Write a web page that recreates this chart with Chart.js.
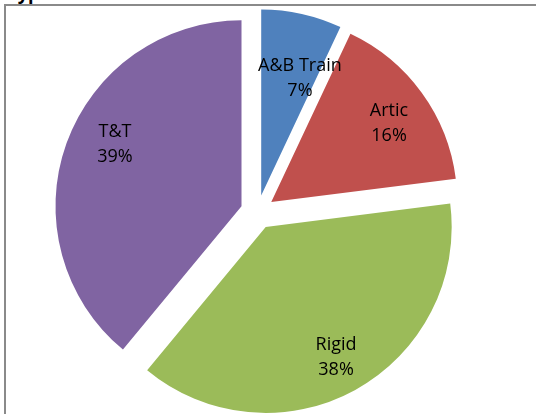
<!DOCTYPE html>
<html>
<head>
<meta charset="utf-8">
<script src="https://cdn.jsdelivr.net/npm/chart.js@4/dist/chart.umd.min.js"></script>
<style>
  html, body { margin: 0; padding: 0; background: #fff; overflow: hidden; }
  #wrap { position: relative; width: 536px; height: 414px; }
  #frame { position: absolute; left: 4px; top: 4px; right: 0; bottom: 0;
           border-top: 2px solid #8a8a8a; border-left: 2px solid #8a8a8a; }
  #title { position: absolute; right: 486px; top: -16px; white-space: nowrap;
           font: bold 18px/18px "Open Sans", sans-serif; color: #000; }
  canvas { position: absolute; left: 0; top: 0; }
</style>
</head>
<body>
<div id="wrap">
  <div id="title">Vehicle Type</div>
  <div id="frame"></div>
  <canvas id="pie" width="536" height="414"></canvas>
</div>
<script>
/* ---------- datos ---------- */
const categorias = ["A&B Train", "Artic", "Rigid", "T&T"];
const valores = [7, 16, 38, 39];
const colores = ["#4F81BD", "#C0504D", "#9BBB59", "#8064A2"];

/* separación de cada porción (px) */
const EXPLODE = 17;

/* ajuste de cada etiqueta: fracción del radio y giro en grados */
const LABEL_PLACE = [
  { r: 0.763, a: 4.8 },
  { r: 0.857, a: 1.6 },
  { r: 0.882, a: 0.2 },
  { r: 0.851, a: 6 },
];

const total = valores.reduce((a, b) => a + b, 0);

/* porciones separadas: se dibuja cada arco desplazado sobre su bisectriz,
   sin que Chart.js agrande el radio de las porciones angostas */
const explodeArcs = {
  id: "explodeArcs",
  beforeDatasetDraw(chart, args) {
    const ctx = chart.ctx;
    args.meta.data.forEach((arc) => {
      const p = arc.getProps(["startAngle", "endAngle"], true);
      const mid = (p.startAngle + p.endAngle) / 2;
      ctx.save();
      ctx.translate(Math.cos(mid) * EXPLODE, Math.sin(mid) * EXPLODE);
      arc.draw(ctx);
      ctx.restore();
    });
    return false;
  },
};

const sliceLabels = {
  id: "sliceLabels",
  afterDatasetsDraw(chart) {
    const ctx = chart.ctx;
    const meta = chart.getDatasetMeta(0);
    ctx.save();
    ctx.font = '18px "Open Sans", sans-serif';
    ctx.fillStyle = "#000";
    ctx.textAlign = "center";
    ctx.textBaseline = "alphabetic";
    meta.data.forEach((arc, i) => {
      const p = arc.getProps(["x", "y", "startAngle", "endAngle", "outerRadius"], true);
      const mid = (p.startAngle + p.endAngle) / 2 + (LABEL_PLACE[i].a * Math.PI) / 180;
      const d = LABEL_PLACE[i].r * p.outerRadius;
      const cx = p.x + Math.cos(mid) * d;
      const cy = p.y + Math.sin(mid) * d;
      const pct = Math.round((valores[i] / total) * 100) + "%";
      ctx.fillText(categorias[i], cx, cy - 12.5 + 6.5);
      ctx.fillText(pct, cx, cy + 12.5 + 6.5);
    });
    ctx.restore();
  },
};

new Chart(document.getElementById("pie"), {
  type: "pie",
  data: {
    labels: categorias,
    datasets: [
      {
        data: valores,
        backgroundColor: colores,
        borderWidth: 0,
        offset: 0,
        hoverOffset: 0,
        clip: false,
      },
    ],
  },
  options: {
    responsive: false,
    animation: false,
    radius: 186,
    layout: { padding: { left: 0, right: 21, top: 10, bottom: 0 } },
    plugins: { legend: { display: false }, tooltip: { enabled: false } },
    events: [],
  },
  plugins: [explodeArcs, sliceLabels],
});
</script>
</body>
</html>
